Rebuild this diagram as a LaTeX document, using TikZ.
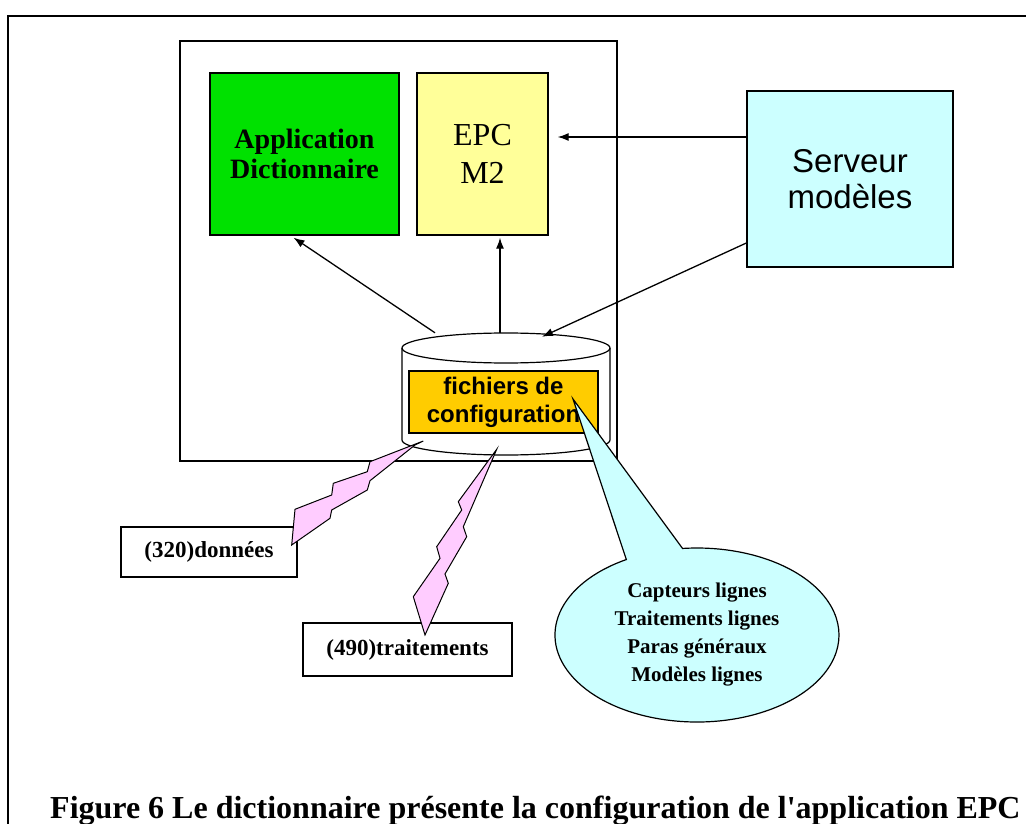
\documentclass[tikz,border=0pt]{standalone}
\usepackage{fontspec}
\setmainfont{Liberation Serif}
\newfontfamily\arialfont{Liberation Sans}
\usetikzlibrary{arrows.meta}
\usetikzlibrary{shapes.callouts}
\definecolor{appgreen}{RGB}{0,225,0}
\definecolor{epcyellow}{RGB}{255,255,153}
\definecolor{srvcyan}{RGB}{204,255,255}
\definecolor{cfgorange}{RGB}{255,204,0}
\definecolor{boltpink}{RGB}{255,204,255}

\begin{document}
\begin{tikzpicture}[x=1pt, y=-1pt,
  box/.style={draw, line width=1.3pt, inner sep=0pt, align=center},
  arr/.style={line width=1.3pt, -{Latex[length=11pt,width=8pt]}},
  bolt/.style={draw, fill=boltpink, line width=1pt, line join=miter}]
\useasboundingbox (0,0) rectangle (1026,824);
\draw[line width=1.4pt] (1026,16) -- (8,16) -- (8,824);
\draw[line width=1.3pt] (180,41) rectangle (617,461);
\node[box, fill=appgreen, minimum width=189pt, minimum height=162pt, font=\bfseries\fontsize{28}{30}\selectfont] (app) at (304.5,154) {Application\\Dictionnaire};
\node[box, fill=epcyellow, minimum width=131pt, minimum height=162pt, font=\fontsize{32}{38}\selectfont] (epc) at (482.5,154) {EPC\\M2};
\node[box, fill=srvcyan, minimum width=206pt, minimum height=176pt, font=\arialfont\fontsize{33}{36}\selectfont] (srv) at (850,179) {Serveur\\modèles};
\draw[line width=1.2pt, fill=white] (402,348) -- (402,440) arc[start angle=180, end angle=360, x radius=104pt, y radius=15pt] -- (610,348);
\draw[line width=1.2pt] (506,348) ellipse[x radius=104pt, y radius=15pt];
\node[minimum width=208pt, minimum height=122pt, inner sep=0pt] (cyl) at (506,394) {};
\node[box, fill=cfgorange, minimum width=189pt, minimum height=62pt, font=\arialfont\bfseries\fontsize{24}{28}\selectfont] (cfg) at (503.5,402) {fichiers de\\configuration};
\draw[arr] ([xshift=-71pt]cyl.north) -- ([xshift=-11pt,yshift=-2pt]app.south);
\draw[arr] ([xshift=-6pt]cyl.north) -- ([xshift=17.5pt,yshift=-2pt]epc.south);
\draw[arr] ([yshift=42pt]srv.west) -- ([xshift=9pt,yshift=17pt]epc.east);
\draw[arr] ([yshift=-64pt]srv.west) -- ([xshift=36pt,yshift=-4pt]cyl.north);
\node[box, minimum width=176pt, minimum height=50pt, font=\bfseries\fontsize{23}{25}\selectfont] (donnees) at (209,552) {(320)données};
\node[box, minimum width=209pt, minimum height=53pt, font=\bfseries\fontsize{23}{25}\selectfont] (traitements) at (407.5,649.5) {(490)traitements};
\draw[bolt] (423.3,441) -- (370,461.7) -- (367.3,471.7) -- (333.3,483.3) -- (331.7,495) -- (295,509.3) -- (291.7,545) -- (330,518.3) -- (331.7,510) -- (367.3,490) -- (370,480.7) -- (415,445) -- cycle;
\draw[bolt] (496.7,449.3) -- (458.3,501.7) -- (461.7,510) -- (436.7,546.7) -- (440,558.3) -- (413.3,596.7) -- (425,635) -- (448.3,583.3) -- (445,574) -- (466.7,536.7) -- (463.3,526.7) -- (495,453.3) -- cycle;
\node[draw, line width=1.2pt, fill=srvcyan, ellipse callout, minimum width=284pt, minimum height=174pt, inner sep=0pt, callout absolute pointer={(573,399)}, callout pointer arc=24, align=center, font=\bfseries\fontsize{21}{28}\selectfont] (notes) at (697,635) {Capteurs lignes\\Traitements lignes\\Paras généraux\\Modèles lignes};
\node[anchor=base west, inner sep=0pt, font=\bfseries\fontsize{32}{36}\selectfont] (caption) at (50,818) {Figure 6 Le dictionnaire présente la configuration de l\textquotesingle application EPC};
\end{tikzpicture}
\end{document}
